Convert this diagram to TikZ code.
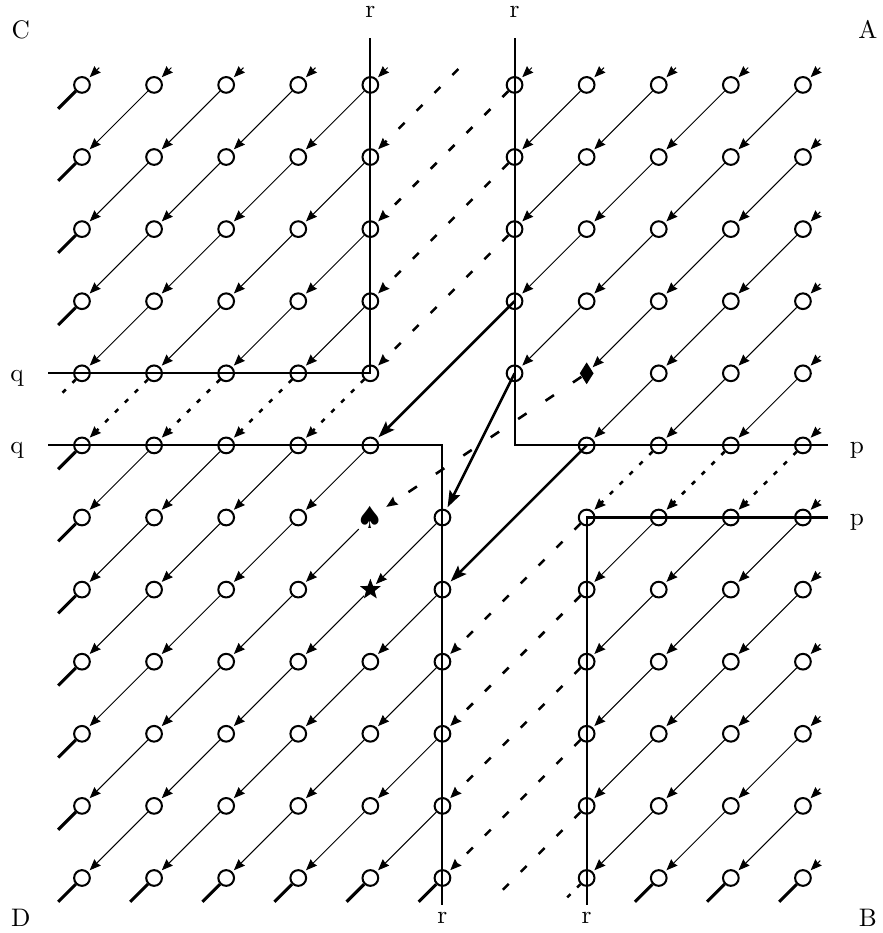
\documentclass[tikz,border=0pt]{standalone}
\usepackage{fontspec}
\newfontfamily\suitfont{DejaVu Sans}
\usetikzlibrary{arrows.meta, shapes.geometric, calc}

\begin{document}
\begin{tikzpicture}[
    site/.style    ={draw, circle, line width=0.8pt, minimum size=6.2pt, inner sep=0pt},
    link/.style    ={-{Stealth[length=4.4pt, width=3.5pt, inset=0.4pt]}, line width=0.4pt, shorten >=0.8pt},
    glue/.style    ={link, line width=1pt, dash pattern=on 1.8pt off 3.7pt},
    longglue/.style={link, line width=1pt, dash pattern=on 3.3pt off 6.7pt},
    leak/.style    ={line width=1.2pt},
    jump/.style    ={-{Stealth[length=6.5pt, width=4.6pt, inset=1.2pt]}, line width=1pt, shorten >=1pt},
    cut/.style     ={line width=0.8pt},
    lbl/.style     ={inner sep=0pt, anchor=base}
]
\useasboundingbox (-1.137,-0.763) rectangle (11.11,12.178);

%% ── Sites (gaps in columns 5 and 6, three marked sites) ──────────
\foreach \c in {0,...,10} {
  \foreach \r in {0,...,11} {
    \pgfmathtruncatemacro\kind{ifthenelse(or(and(\c==5,\r<6),and(\c==6,\r>4)),0,
        ifthenelse(and(\c==7,\r==4),2,ifthenelse(and(\c==4,\r==6),3,
        ifthenelse(and(\c==4,\r==7),4,1))))}
    \ifcase\kind
    \or \node[site] (s-\c-\r) at (\c,11-\r) {};
    \or \node[diamond, fill, minimum width=5.6pt, minimum height=8.8pt, inner sep=0pt]
            (s-\c-\r) at (\c,11-\r) {};
    \or \node[inner sep=0pt, font=\suitfont\fontsize{12}{12}\selectfont]
            (s-\c-\r) at (\c,11-\r) {♠};
    \or \node[star, star points=5, star point ratio=2.4, fill, minimum size=8.6pt, inner sep=0pt]
            (s-\c-\r) at (\c,11-\r) {};
    \fi
  }
}

%% ── Cut lines ────────────────────────────────────────────────────
\coordinate (topL)   at (4,11.65);
\coordinate (topR)   at (6,11.65);
\coordinate (botL)   at (5,-0.375);
\coordinate (botR)   at (7,-0.375);
\coordinate (leftU)  at (-0.47,7);
\coordinate (leftL)  at (-0.47,6);
\coordinate (rightU) at (10.35,6);
\coordinate (rightL) at (10.35,5);

\draw[cut] (topL) -- (s-4-4.center) -- (leftU);
\draw[cut] (topR) |- (rightU);
\draw[cut] (leftL) -| (botL);
\draw[cut] (rightL) -| (botR);

%% ── Links inside the four blocks ─────────────────────────────────
\foreach \cs/\ce/\rs/\re in {0/3/1/4, 6/9/1/4, 7/9/5/5, 0/3/6/6, 0/4/7/11, 7/9/7/11} {
  \foreach \c in {\cs,...,\ce} {
    \foreach \r in {\rs,...,\re} {
      \pgfmathtruncatemacro\cc{\c+1}
      \pgfmathtruncatemacro\rr{\r-1}
      \draw[link] (s-\cc-\rr) -- (s-\c-\r);
    }
  }
}

%% ── Glued links across the cuts ──────────────────────────────────
\foreach \a/\b in {1-4/0-5, 2-4/1-5, 3-4/2-5, 4-4/3-5, 8-5/7-6, 9-5/8-6, 10-5/9-6}
    \draw[glue] (s-\a) -- (s-\b);
\foreach \a/\b in {6-0/4-2, 6-1/4-3, 6-2/4-4, 7-6/5-8, 7-7/5-9, 7-8/5-10, 7-9/5-11}
    \draw[longglue] (s-\a) -- (s-\b);
\draw[link, line width=1pt, dash pattern=on 4pt off 9pt] (s-7-4) -- (s-4-6);

% free ends of the glued links
\draw[longglue]    ($(s-4-1)+(1.22,1.22)$) -- (s-4-1);
\draw[longglue, -] (s-7-10) -- ($(s-7-10)+(-1.31,-1.31)$);
\draw[glue, -]     (s-7-11) -- ($(s-7-11)+(-0.31,-0.31)$);
\draw[glue, -]     (s-0-4)  -- ($(s-0-4)+(-0.33,-0.33)$);

%% ── Jumps ────────────────────────────────────────────────────────
\draw[jump] (s-6-3.center) -- (s-4-5);
\draw[jump] (s-6-4.center) -- (s-5-6);
\draw[jump] (s-7-5.center) -- (s-5-7);

%% ── Boundary: incoming stubs (top, right), outgoing (left, bottom)
\foreach \c in {0,1,2,3,4,6,7,8,9,10}
    \draw[link] ($(s-\c-0)+(0.24,0.24)$) -- (s-\c-0);
\foreach \r in {1,...,11}
    \draw[link] ($(s-10-\r)+(0.24,0.24)$) -- (s-10-\r);
\foreach \r in {0,1,2,3,5,6,7,8,9,10,11}
    \draw[leak] (s-0-\r) -- ($(s-0-\r)+(-0.33,-0.33)$);
\foreach \c in {1,2,3,4,5,8,9,10}
    \draw[leak] (s-\c-11) -- ($(s-\c-11)+(-0.33,-0.33)$);

%% ── Labels ───────────────────────────────────────────────────────
\node[lbl] (rT1) at (4,11.93)      {r};
\node[lbl] (rT2) at (6,11.93)      {r};
\node[lbl] (rB1) at (5,-0.63)      {r};
\node[lbl] (rB2) at (7,-0.63)      {r};
\node[lbl] (qU)  at (-0.9,6.89)    {q};
\node[lbl] (qL)  at (-0.9,5.89)    {q};
\node[lbl] (pU)  at (10.75,5.89)   {p};
\node[lbl] (pL)  at (10.75,4.89)   {p};
\node[lbl] (cC)  at (-0.85,11.64)  {C};
\node[lbl] (cA)  at (10.9,11.64)   {A};
\node[lbl] (cD)  at (-0.85,-0.67)  {D};
\node[lbl] (cB)  at (10.9,-0.67)   {B};

\end{tikzpicture}
\end{document}
